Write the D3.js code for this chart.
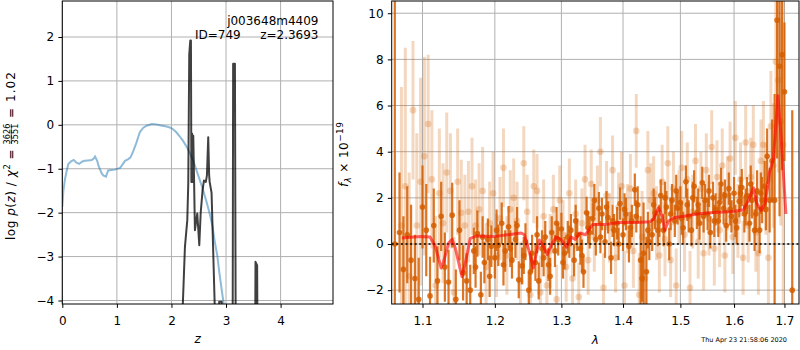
<!DOCTYPE html>
<html>
<head>
<meta charset="utf-8">
<script src="https://cdn.jsdelivr.net/npm/d3@7"></script>
<style>
  body { margin: 0; background: #fff; }
  svg { display: block; font-family: "DejaVu Sans", sans-serif; }
  text { white-space: pre; }
</style>
</head>
<body>
<script>
// ---- left panel: redshift fit ----
const chiZ = [0, 0.02, 0.05, 0.08, 0.11, 0.16, 0.21, 0.26, 0.31, 0.36, 0.41, 0.47, 0.54, 0.58, 0.6, 0.64, 0.66, 0.68, 0.72, 0.75, 0.8, 0.84, 0.9, 0.965, 1.06, 1.15, 1.21, 1.25, 1.3, 1.36, 1.42, 1.48, 1.545, 1.64, 1.72, 1.79, 1.88, 1.97, 2.03, 2.09, 2.15, 2.21, 2.27, 2.33, 2.4, 2.46, 2.52, 2.58, 2.64, 2.7, 2.75, 2.79, 2.84, 2.88, 2.92, 2.96, 3.0];
const chiLogP = [-1.87, -1.5, -1.23, -1.05, -0.89, -0.83, -0.8, -0.86, -0.89, -0.84, -0.82, -0.81, -0.8, -0.76, -0.72, -0.82, -0.92, -0.98, -1.1, -1.15, -1.18, -1.04, -1.03, -1.02, -0.98, -0.82, -0.78, -0.74, -0.6, -0.4, -0.17, -0.07, -0.02, 0.02, 0.01, -0.01, -0.03, -0.06, -0.1, -0.17, -0.26, -0.36, -0.48, -0.62, -0.82, -1.04, -1.26, -1.49, -1.74, -2.02, -2.3, -2.63, -2.98, -3.39, -3.75, -4.1, -4.5];

const pzZ = [2.195, 2.205, 2.229, 2.247, 2.29, 2.308, 2.326, 2.345, 2.357, 2.365, 2.378, 2.39, 2.4, 2.415, 2.43, 2.473, 2.51, 2.535, 2.57, 2.595, 2.63, 2.65, 2.674, 2.69, 2.7, 2.735, 2.797, 2.82, 2.85, 2.875, 2.92, 2.94, 3.12, 3.13, 3.163, 3.18, 3.53, 3.54, 3.57, 3.58, 3.7];
const pzLogP = [-6, -4.2, -3.39, -2.78, -2.17, -1.34, 1.6, 1.92, 1.92, -1.3, -0.2, -1.3, -0.25, -1.3, -2.4, -2.02, -2.74, -2.02, -1.49, -1.27, -1.3, -1.15, -0.28, -1.13, -1.3, -1.55, -4.3, -6, -6, -4.03, -4.03, -6, -6, 1.39, 1.39, -6, -6, -3.12, -3.2, -6, -6];

const zTicks = [0, 1, 2, 3, 4];
const pTicks = [-4, -3, -2, -1, 0, 1, 2];

// ---- right panel: spectrum ----
const darkWave = [1.064,
  1.070, 1.075, 1.080, 1.085, 1.090, 1.095, 1.100, 1.105, 1.110, 1.115,
  1.120, 1.125, 1.130, 1.135, 1.140, 1.145, 1.150, 1.155, 1.160, 1.165,
  1.170, 1.175, 1.180, 1.185, 1.190, 1.195, 1.200, 1.205, 1.210, 1.215,
  1.220, 1.225, 1.230, 1.235, 1.240, 1.245, 1.250, 1.255, 1.260, 1.265,
  1.270, 1.275, 1.280, 1.285, 1.290, 1.295, 1.300, 1.305, 1.310, 1.315,
  1.320, 1.325, 1.330, 1.335, 1.340, 1.345, 1.350, 1.355, 1.360, 1.365,
  1.370, 1.375, 1.380, 1.385, 1.390, 1.395, 1.400, 1.405, 1.410, 1.415,
  1.420, 1.425, 1.430, 1.435, 1.440, 1.445, 1.450, 1.455, 1.460, 1.465,
  1.470, 1.475, 1.480, 1.485, 1.490, 1.495, 1.500, 1.505, 1.510, 1.515,
  1.520, 1.525, 1.530, 1.535, 1.540, 1.545, 1.550, 1.555, 1.560, 1.565,
  1.570, 1.575, 1.580, 1.585, 1.590, 1.595, 1.600, 1.605, 1.610, 1.615,
  1.620, 1.625, 1.630, 1.635, 1.640, 1.645, 1.650, 1.655, 1.660, 1.665,
  1.670, 1.675, 1.680, 1.685, 1.690, 1.695, 1.700,
  1.716];
const darkFlux = [0,
  0.5, -1.1, 0.4, -0.7, -1.5, -2.4, 1.6, 0.6, -2.25, 0.8,
  -1.6, 1.2, -1.0, -1.65, 1.25, -2.4, 0.6, -1.25, -1.6, -2.0,
  -0.3, 0.45, -2.2, -0.8, 0.2, -0.1, -0.6, -0.05, 0.9, -0.3,
  0.75, -0.7, 0.2, -1.55, -0.95, 0.1, -2.0, -0.4, -0.8, -1.6,
  -0.2, 0.3, -0.9, 0.5, -0.3, 0.2, 0.65, -0.4, 0.3, 0.6,
  -0.7, 0.4, -0.2, -1.2, 1.35, 0.5, 1.1, 0.2, 1.55, 1.3,
  0.1, 1.15, -0.6, 0.6, 0.9, 1.75, 0.4, 1.3, -0.1, 1.0,
  2.35, 1.7, -0.7, -0.4, -1.2, 0.1, 0.4, 1.35, 0.6, 2.1,
  0.6, 1.6, 0.0, 1.9, 1.0, 1.55, 1.8, 0.7, 2.7, 1.2,
  0.6, 2.5, 1.35, 0.9, 2.65, 1.9, 1.3, 0.5, 2.0, 1.5,
  1.0, 2.6, 1.55, 0.8, 2.4, 1.2, 2.2, 0.7, 1.85, 2.45,
  1.3, 2.1, 0.9, 1.9, 0.6, 2.3, 0.6, 1.9, 2.5, 3.8,
  1.9, 3.6, 1.9, 9.7, 7.7, 8.2, 6.6,
  -2];
const darkErr = [30,
  2.6, 2.3, 2.1, 2.4, 1.9, 1.8, 1.8, 2.0, 1.7, 1.6,
  1.5, 1.5, 1.5, 1.4, 1.4, 1.3, 1.3, 1.2, 1.2, 1.1,
  1.0, 1.0, 1.0, 0.9, 0.9, 0.9, 0.9, 0.9, 0.9, 0.9,
  0.9, 0.8, 0.8, 0.8, 0.8, 0.8, 0.8, 0.8, 0.8, 0.8,
  0.8, 0.7, 0.7, 0.7, 0.7, 0.7, 0.7, 0.7, 0.7, 0.7,
  0.7, 0.7, 0.7, 0.7, 0.7, 0.7, 0.7, 0.7, 0.7, 0.7,
  0.7, 0.7, 0.7, 0.7, 0.7, 0.7, 0.7, 0.7, 0.7, 0.7,
  0.7, 0.8, 1.9, 2.2, 1.5, 0.8, 0.7, 0.7, 0.7, 0.7,
  0.7, 0.7, 0.7, 0.7, 0.7, 0.7, 0.7, 0.7, 0.7, 0.7,
  0.7, 0.7, 0.7, 0.7, 0.7, 0.7, 0.7, 0.7, 0.7, 0.7,
  0.7, 0.7, 0.7, 0.7, 0.7, 0.7, 0.7, 0.7, 0.7, 0.8,
  0.8, 0.8, 0.8, 0.8, 0.9, 0.9, 1.0, 1.0, 1.1, 1.2,
  1.4, 1.8, 4.6, 6.0, 6.5, 5.0, 3.0,
  7.8];

// second dark (in-between) samples of the dense band
const darkWave2 = [
  1.1725, 1.1825, 1.1925, 1.2025, 1.2125, 1.2225, 1.2325, 1.2425, 1.2525, 1.2625,
  1.2725, 1.2825, 1.2925, 1.3025, 1.3125, 1.3225, 1.3325, 1.3425, 1.3525, 1.3625,
  1.3725, 1.3825, 1.3925, 1.4025, 1.4125, 1.4225, 1.4325, 1.4425, 1.4525, 1.4625,
  1.4725, 1.4825, 1.4925, 1.5025, 1.5125, 1.5225, 1.5325, 1.5425, 1.5525, 1.5625,
  1.5725, 1.5825, 1.5925, 1.6025, 1.6125, 1.6225, 1.6325, 1.6425, 1.6525, 1.6625];
const darkFlux2 = [
  -1.0, 0.3, -1.4, 0.6, -0.9, -0.2, 0.8, -0.5, -1.2, 0.4,
  -0.6, -1.4, 0.9, -0.8, 0.1, 1.0, -0.5, 0.7, 1.9, 0.3,
  1.6, 1.0, 0.0, 1.5, 0.7, 1.2, -1.5, 0.6, 1.7, 1.0,
  2.0, 1.3, 2.3, 1.1, 1.7, 2.0, 1.7, 1.2, 2.3, 1.0,
  1.8, 2.1, 1.5, 1.0, 2.2, 1.6, 2.6, 1.3, 2.2, 1.5];
const darkErr2 = [
  0.9, 0.9, 0.9, 0.9, 0.9, 0.8, 0.8, 0.8, 0.8, 0.8,
  0.8, 0.8, 0.7, 0.7, 0.7, 0.7, 0.7, 0.7, 0.7, 0.7,
  0.7, 0.7, 0.7, 0.7, 0.7, 0.7, 1.0, 0.8, 0.7, 0.7,
  0.7, 0.7, 0.7, 0.7, 0.7, 0.7, 0.7, 0.7, 0.7, 0.7,
  0.7, 0.7, 0.7, 0.7, 0.7, 0.8, 0.8, 0.8, 0.9, 0.9];

const lightWave = [
  1.0725, 1.0775, 1.0825, 1.0875, 1.0925, 1.0975, 1.1025, 1.1075, 1.1125, 1.1175,
  1.1225, 1.1275, 1.1325, 1.1375, 1.1425, 1.1475, 1.1525, 1.1575, 1.1625, 1.1675,
  1.1725, 1.1775, 1.1825, 1.1875, 1.1925, 1.1975, 1.2025, 1.2075, 1.2125, 1.2175,
  1.2225, 1.2275, 1.2325, 1.2375, 1.2425, 1.2475, 1.2525, 1.2575, 1.2625, 1.2675,
  1.2725, 1.2775, 1.2825, 1.2875, 1.2925, 1.2975, 1.3025, 1.3075, 1.3125, 1.3175,
  1.3225, 1.3275, 1.3325, 1.3375, 1.3425, 1.3475, 1.3525, 1.3575, 1.3625, 1.3675,
  1.3725, 1.3775, 1.3825, 1.3875, 1.3925, 1.3975, 1.4025, 1.4075, 1.4125, 1.4175,
  1.4225, 1.4275, 1.4325, 1.4375, 1.4425, 1.4475, 1.4525, 1.4575, 1.4625, 1.4675,
  1.4725, 1.4775, 1.4825, 1.4875, 1.4925, 1.4975, 1.5025, 1.5075, 1.5125, 1.5175,
  1.5225, 1.5275, 1.5325, 1.5375, 1.5425, 1.5475, 1.5525, 1.5575, 1.5625, 1.5675,
  1.5725, 1.5775, 1.5825, 1.5875, 1.5925, 1.5975, 1.6025, 1.6075, 1.6125, 1.6175,
  1.6225, 1.6275, 1.6325, 1.6375, 1.6425, 1.6475, 1.6525, 1.6575, 1.6625, 1.6675,
  1.6725, 1.6775, 1.6825, 1.6875, 1.6925, 1.6975];
const lightFlux = [
  0.8, 2.5, -1.4, 5.8, 0.8, 2.7, 3.8, 5.2, 2.8, -1.8,
  2.2, 0.9, 3.1, 2.3, -2.1, 2.7, 1.35, 0.8, 1.4, 2.5,
  0.8, 1.5, 2.3, -1.0, 0.9, 2.2, -0.5, 1.1, 3.3, -0.5,
  1.5, 2.0, 1.0, -1.6, 3.5, 1.4, -2.2, 2.5, 2.3, -2.1,
  1.2, -1.8, -0.3, 1.5, -2.4, 1.9, 0.4, -1.0, 2.2, -1.5,
  1.3, -2.3, 0.9, 2.8, -0.7, 2.6, 0.3, 1.9, 4.0, -1.9,
  2.1, 0.7, 3.2, -0.6, 1.6, 2.5, -1.8, 1.1, 2.4, -0.3,
  4.9, -2.2, 0.3, -1.5, 3.2, 1.9, 2.2, 0.9, -0.5, 2.7,
  0.2, 3.5, -0.7, 2.4, -1.8, 1.6, 3.3, 0.4, 2.8, -1.9,
  1.4, 3.6, 0.1, 2.4, -0.4, 3.2, 1.1, 4.2, -0.2, 2.9,
  0.6, 3.4, -0.5, 2.2, 3.7, 0.3, 4.6, 1.0, 2.8, -0.6,
  4.4, 0.8, 2.9, 4.3, 0.5, -0.4, 3.6, 4.3, 2.4, -0.6,
  5.1, 3.4, 7.9, 7.1, 5.3, 4.3];
const lightErr = [
  6.0, 6.0, 4.5, 3.0, 4.0, 4.5, 4.3, 3.0, 3.0, 3.0,
  2.8, 2.6, 2.6, 2.5, 2.4, 2.3, 2.3, 2.2, 2.2, 2.1,
  2.0, 2.0, 1.9, 1.9, 1.8, 1.8, 1.8, 1.8, 1.7, 1.7,
  1.7, 1.7, 1.7, 1.7, 1.6, 1.6, 1.6, 1.6, 1.6, 1.6,
  1.6, 1.6, 1.6, 1.5, 1.5, 1.5, 1.5, 1.5, 1.5, 1.5,
  1.5, 1.5, 1.5, 1.5, 1.5, 1.5, 1.5, 1.5, 1.5, 1.5,
  1.5, 1.5, 1.5, 1.5, 1.5, 1.5, 1.5, 1.5, 1.5, 1.6,
  1.6, 1.8, 2.0, 2.0, 1.7, 1.6, 1.6, 1.6, 1.6, 1.6,
  1.6, 1.6, 1.6, 1.6, 1.6, 1.6, 1.6, 1.6, 1.6, 1.6,
  1.6, 1.6, 1.6, 1.6, 1.6, 1.6, 1.6, 1.6, 1.6, 1.6,
  1.6, 1.6, 1.6, 1.6, 1.6, 1.6, 1.6, 1.6, 1.6, 1.6,
  1.6, 1.6, 1.7, 1.7, 1.7, 1.8, 1.8, 1.9, 2.0, 2.2,
  2.4, 2.7, 3.5, 4.0, 4.5, 8.0];

const modelWave = [1.073, 1.097, 1.110, 1.117, 1.125, 1.128, 1.135, 1.140, 1.144, 1.1535, 1.159, 1.165, 1.1745, 1.1985, 1.218, 1.2386, 1.2433, 1.2514, 1.2567, 1.2615, 1.266, 1.272, 1.278, 1.285, 1.292, 1.2995, 1.308, 1.315, 1.322, 1.329, 1.338, 1.350, 1.372, 1.394, 1.423, 1.446, 1.452, 1.461, 1.4675, 1.472, 1.479, 1.488, 1.506, 1.530, 1.560, 1.592, 1.618, 1.628, 1.638, 1.644, 1.653, 1.661, 1.6695, 1.6776, 1.6866, 1.6926, 1.703];
const modelFlux = [0.26, 0.33, 0.30, -0.10, -1.04, -0.80, 0.04, 0.20, -0.15, -1.41, -0.70, 0.24, 0.35, 0.32, 0.40, 0.48, 0.40, -0.40, -1.04, -0.40, 0.17, -0.10, -0.46, 0.00, 0.30, 0.20, -0.14, 0.30, 0.20, 0.48, 0.40, 0.85, 0.85, 0.93, 0.93, 0.96, 1.07, 1.57, 1.20, 0.60, 1.00, 1.14, 1.20, 1.30, 1.36, 1.40, 1.47, 1.90, 2.43, 1.77, 1.45, 1.77, 3.09, 3.68, 6.42, 4.80, 1.30];

const waveTicks = [1.1, 1.2, 1.3, 1.4, 1.5, 1.6, 1.7];
const fluxTicks = [-2, 0, 2, 4, 6, 8, 10];

const FS = 12;
const GRID = '#b0b0b0';
const G141 = '#d55e00';

const svg = d3.select('body').append('svg').attr('width', 800).attr('height', 350);

// ---------- left panel ----------
const xZ = d3.scaleLinear([0, 4.96], [62.3, 333]);
const yP = d3.scaleLinear([-4.08, 2.82], [304, 1]);

svg.append('clipPath').attr('id', 'clipL').append('rect')
  .attr('x', 62.3).attr('y', 1).attr('width', 333 - 62.3).attr('height', 303);

const gl = svg.append('g');
gl.selectAll('.gx').data(zTicks).enter().append('line')
  .attr('x1', d => xZ(d)).attr('x2', d => xZ(d)).attr('y1', 1).attr('y2', 304)
  .attr('stroke', GRID).attr('stroke-width', 1);
gl.selectAll('.gy').data(pTicks).enter().append('line')
  .attr('y1', d => yP(d)).attr('y2', d => yP(d)).attr('x1', 62.3).attr('x2', 333)
  .attr('stroke', GRID).attr('stroke-width', 1);

const lineL = d3.line().x(d => xZ(d[0])).y(d => yP(d[1]));
gl.append('path').datum(d3.zip(chiZ, chiLogP)).attr('d', lineL)
  .attr('clip-path', 'url(#clipL)')
  .attr('fill', 'none').attr('stroke', '#1f77b4').attr('stroke-opacity', 0.5).attr('stroke-width', 2);
gl.append('path').datum(d3.zip(pzZ, pzLogP)).attr('d', lineL)
  .attr('clip-path', 'url(#clipL)')
  .attr('fill', 'none').attr('stroke', '#000').attr('stroke-opacity', 0.75)
  .attr('stroke-width', 2).attr('stroke-linejoin', 'round');

gl.append('text').attr('x', 318.5).attr('y', 24.5).attr('text-anchor', 'end')
  .attr('font-size', FS).text('j003648m4409');
gl.append('text').attr('x', 195).attr('y', 38.5)
  .attr('font-size', FS).text('ID=749');
gl.append('text').attr('x', 318.5).attr('y', 38.5).attr('text-anchor', 'end')
  .attr('font-size', FS).text('z=2.3693');

function styleAxis(g) {
  g.select('.domain').remove();
  g.selectAll('.tick line').attr('stroke', '#000').attr('stroke-width', 1);
  g.selectAll('.tick text').attr('font-size', FS).attr('fill', '#000')
    .attr('font-family', '"DejaVu Sans", sans-serif');
}

svg.append('g').attr('transform', 'translate(0,304)')
  .call(d3.axisBottom(xZ).tickValues(zTicks).tickSize(3.9).tickPadding(8.6).tickFormat(d3.format('d')))
  .call(styleAxis);
svg.append('g').attr('transform', 'translate(62.3,0)')
  .call(d3.axisLeft(yP).tickValues(pTicks).tickSize(3.9).tickPadding(4.2).tickFormat(d3.format('d')))
  .call(styleAxis);

svg.append('rect').attr('x', 62.3).attr('y', 1).attr('width', 333 - 62.3).attr('height', 303)
  .attr('fill', 'none').attr('stroke', '#000').attr('stroke-width', 1);

svg.append('text').attr('x', (62.3 + 333) / 2).attr('y', 343).attr('text-anchor', 'middle')
  .attr('font-size', FS).attr('font-style', 'italic').text('z');

// left y label: log p(z) / chi^2 = 3626/3551 = 1.02 (runs from y=240 up to y=68)
{
  const g = svg.append('g').attr('transform', 'translate(15,240) rotate(-90)');
  const L1 = 95, Wf = 22, L2 = 51;
  const t1 = g.append('text').attr('font-size', FS)
    .attr('textLength', L1).attr('lengthAdjust', 'spacing');
  t1.append('tspan').text('log ');
  t1.append('tspan').attr('font-style', 'italic').text('p');
  t1.append('tspan').text('(');
  t1.append('tspan').attr('font-style', 'italic').text('z');
  t1.append('tspan').text(') / ');
  t1.append('tspan').attr('font-style', 'italic').text('χ');
  t1.append('tspan').attr('font-size', FS * 0.7).attr('dy', -FS * 0.42).text('2');
  t1.append('tspan').attr('dy', FS * 0.42).text(' = ');
  const fs2 = FS * 0.68;
  const cx = L1 + Wf / 2;
  g.append('text').attr('font-size', fs2).attr('text-anchor', 'middle')
    .attr('x', cx).attr('y', -5).text('3626');
  g.append('text').attr('font-size', fs2).attr('text-anchor', 'middle')
    .attr('x', cx).attr('y', 2.6).text('3551');
  g.append('line').attr('x1', L1 + 1).attr('x2', L1 + Wf - 1).attr('y1', -3.7).attr('y2', -3.7)
    .attr('stroke', '#000').attr('stroke-width', 0.7);
  g.append('text').attr('font-size', FS).attr('x', L1 + Wf)
    .attr('textLength', L2).attr('lengthAdjust', 'spacing').text(' = 1.02');
}

// ---------- right panel ----------
const xL = d3.scaleLog([1.06, 1.73], [391.7, 799]);
const yF = d3.scaleLinear([-2.6, 10.53], [304, 1]);

svg.append('clipPath').attr('id', 'clipR').append('rect')
  .attr('x', 391.7).attr('y', 1).attr('width', 799 - 391.7).attr('height', 303);

const gr = svg.append('g');
gr.selectAll('.gx').data(waveTicks).enter().append('line')
  .attr('x1', d => xL(d)).attr('x2', d => xL(d)).attr('y1', 1).attr('y2', 304)
  .attr('stroke', GRID).attr('stroke-width', 1);
gr.selectAll('.gy').data(fluxTicks).enter().append('line')
  .attr('y1', d => yF(d)).attr('y2', d => yF(d)).attr('x1', 391.7).attr('x2', 799)
  .attr('stroke', GRID).attr('stroke-width', 1);

const dataR = gr.append('g').attr('clip-path', 'url(#clipR)');

function errSeries(wave, flux, err, opacity, bw, r) {
  const pts = wave.map((w, i) => ({ w, f: flux[i], e: err[i] }));
  const g = dataR.append('g');
  g.selectAll('line').data(pts).enter().append('line')
    .attr('x1', d => xL(d.w)).attr('x2', d => xL(d.w))
    .attr('y1', d => yF(d.f - d.e)).attr('y2', d => yF(d.f + d.e))
    .attr('stroke', G141).attr('stroke-opacity', opacity).attr('stroke-width', bw);
  g.selectAll('circle').data(pts).enter().append('circle')
    .attr('cx', d => xL(d.w)).attr('cy', d => yF(d.f)).attr('r', r)
    .attr('fill', G141).attr('fill-opacity', opacity);
}
errSeries(lightWave, lightFlux, lightErr, 0.25, 3, 3.3);
errSeries(darkWave, darkFlux, darkErr, 0.85, 2.2, 2.8);
errSeries(darkWave2, darkFlux2, darkErr2, 0.85, 2.2, 2.8);

dataR.append('line').attr('x1', 391.7).attr('x2', 799).attr('y1', yF(0)).attr('y2', yF(0))
  .attr('stroke', '#000').attr('stroke-width', 1.6).attr('stroke-dasharray', '2,2.6');

dataR.append('path').datum(d3.zip(modelWave, modelFlux))
  .attr('d', d3.line().x(d => xL(d[0])).y(d => yF(d[1])))
  .attr('fill', 'none').attr('stroke', '#ff0000').attr('stroke-opacity', 0.6)
  .attr('stroke-width', 3).attr('stroke-linejoin', 'round');

svg.append('g').attr('transform', 'translate(0,304)')
  .call(d3.axisBottom(xL).tickValues(waveTicks).tickSize(3.9).tickPadding(8.6).tickFormat(d3.format('.1f')))
  .call(styleAxis);
svg.append('g').attr('transform', 'translate(391.7,0)')
  .call(d3.axisLeft(yF).tickValues(fluxTicks).tickSize(3.9).tickPadding(4.2).tickFormat(d3.format('d')))
  .call(styleAxis);

svg.append('rect').attr('x', 391.7).attr('y', 1).attr('width', 799 - 391.7).attr('height', 303)
  .attr('fill', 'none').attr('stroke', '#000').attr('stroke-width', 1);

svg.append('text').attr('x', (391.7 + 799) / 2).attr('y', 344).attr('text-anchor', 'middle')
  .attr('font-size', FS).attr('font-style', 'italic').text('λ');

// right y label: f_lambda x 10^-19 (runs from y=187 up to y=122)
{
  const t = svg.append('text').attr('font-size', FS)
    .attr('transform', 'translate(348,187) rotate(-90)')
    .attr('textLength', 65).attr('lengthAdjust', 'spacing');
  t.append('tspan').attr('font-style', 'italic').text('f');
  t.append('tspan').attr('font-style', 'italic').attr('font-size', FS * 0.72).attr('dy', FS * 0.22).text('λ');
  t.append('tspan').attr('dy', -FS * 0.22).text(' × 10');
  t.append('tspan').attr('font-size', FS * 0.75).attr('dy', -FS * 0.45).text('−19');
}

svg.append('text').attr('x', 787).attr('y', 342).attr('text-anchor', 'end')
  .attr('font-size', 6.5).text('Thu Apr 23 21:58:06 2020');
</script>
</body>
</html>
